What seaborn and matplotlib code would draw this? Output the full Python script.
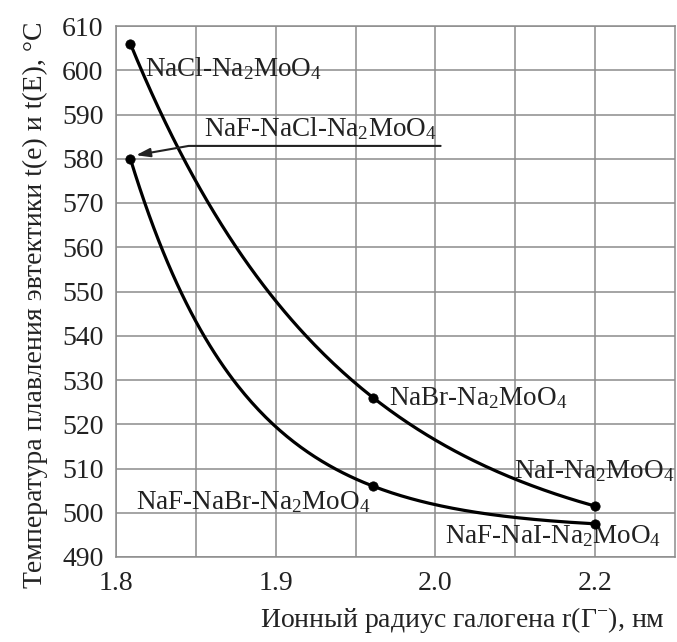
import numpy as np
import pandas as pd
import seaborn as sns
import matplotlib.pyplot as plt

# ---- data ----
radius = [1.809, 1.961, 2.20]                 # ionic radius of halide, nm (axis labels)
t_binary = [606.0, 526.0, 501.5]              # NaX-Na2MoO4 eutectic, °C
t_ternary = [580.0, 506.0, 497.5]             # NaF-NaX-Na2MoO4 eutectic, °C
labels_binary = ["NaCl-Na$_2$MoO$_4$", "NaBr-Na$_2$MoO$_4$", "NaI-Na$_2$MoO$_4$"]
labels_ternary = ["NaF-NaCl-Na$_2$MoO$_4$", "NaF-NaBr-Na$_2$MoO$_4$", "NaF-NaI-Na$_2$MoO$_4$"]
x_ticks = [1.8, 1.9, 2.0, 2.2]
x_tick_labels = ["1.8", "1.9", "2.0", "2.2"]
x_minor = [1.85, 1.95, 2.1]
y_ticks = list(range(490, 611, 10))

sns.set_theme(style="white")
plt.rcParams["font.family"] = ["Liberation Serif", "DejaVu Serif"]
plt.rcParams["mathtext.fontset"] = "custom"
plt.rcParams["mathtext.rm"] = "Liberation Serif"
plt.rcParams["mathtext.it"] = "Liberation Serif:italic"
plt.rcParams["mathtext.bf"] = "Liberation Serif:bold"

# piecewise axis: the section above 2.0 is drawn at half scale (as in the original)
def fwd(x):
    x = np.asarray(x, dtype=float)
    return np.where(x <= 2.0, x, 2.0 + (x - 2.0) / 2.0)

def inv(u):
    u = np.asarray(u, dtype=float)
    return np.where(u <= 2.0, u, 2.0 + (u - 2.0) * 2.0)

def exp_fit_curve(x, y, n=200):
    """Exponential-decay trend line y = a + b*exp(-k u) through 3 points (u = axis position)."""
    u = fwd(x)
    d1, d2 = u[1] - u[0], u[2] - u[1]
    target = (y[0] - y[1]) / (y[1] - y[2])
    lo, hi = 1e-6, 200.0
    for _ in range(200):
        k = 0.5 * (lo + hi)
        r = (np.exp(k * d1) - 1) / (1 - np.exp(-k * d2))
        if r < target:
            lo = k
        else:
            hi = k
    b = (y[0] - y[1]) / (1 - np.exp(-k * d1))
    a = y[0] - b
    uu = np.linspace(u[0], u[2], n)
    yy = a + b * np.exp(-k * (uu - u[0]))
    return inv(uu), yy

fig = plt.figure(figsize=(6.77, 6.42), dpi=100)
ax = fig.add_axes([116 / 677, 1 - 557 / 642, 559 / 677, 531 / 642])
ax.set_xscale("function", functions=(fwd, inv))

for ys in (t_binary, t_ternary):
    cx, cy = exp_fit_curve(np.array(radius), np.array(ys))
    sns.lineplot(x=cx, y=cy, ax=ax, color="black", linewidth=2.3, sort=False, estimator=None)

df = pd.DataFrame({"r": radius * 2, "t": t_binary + t_ternary})
sns.scatterplot(data=df, x="r", y="t", ax=ax, color="black", s=45, edgecolor="black", zorder=5)

ax.set_xlim(1.8, 2.3)
ax.set_ylim(490, 610)
ax.set_xticks(x_ticks)
ax.set_xticklabels(x_tick_labels)
ax.set_xticks(x_minor, minor=True)
ax.set_yticks(y_ticks)
ax.grid(True, which="both", color="#8c8c8c", linewidth=1.1)
ax.set_axisbelow(True)
for sp in ax.spines.values():
    sp.set_color("#8c8c8c")
    sp.set_linewidth(1.1)
ax.tick_params(axis="both", which="both", length=0, labelsize=20, colors="#222222")
ax.tick_params(axis="x", pad=10)
ax.tick_params(axis="y", pad=9)

fs = 19.5
tc = "#222222"
ax.text(1.818, 600.3, labels_binary[0], fontsize=fs, ha="left", va="center", color=tc)
ax.text(1.971, 526.0, labels_binary[1], fontsize=fs, ha="left", va="center", color=tc)
ax.text(2.098, 509.5, labels_binary[2], fontsize=fs, ha="left", va="center", color=tc)
ax.text(1.8125, 502.3, labels_ternary[1], fontsize=fs, ha="left", va="center", color=tc)
ax.text(2.012, 494.6, labels_ternary[2], fontsize=fs, ha="left", va="center", color=tc)
ax.text(1.855, 586.8, labels_ternary[0], fontsize=fs, ha="left", va="center", color=tc)
ax.annotate("", xy=(1.8125, 580.8), xytext=(2.262, 582.9) if False else (2.0065, 582.9),
            arrowprops=dict(arrowstyle="-|>,head_length=0.7,head_width=0.22",
                            connectionstyle="angle,angleA=180,angleB=10,rad=0",
                            color="#222222", linewidth=1.5, shrinkA=0, shrinkB=0))

ax.set_xlabel("Ионный радиус галогена r(Г$^{-}$), нм", fontsize=20, color=tc, ha="right", va="center")
ax.xaxis.set_label_coords((665 - 116) / 559, -(620 - 557) / 531)
ax.set_ylabel("Температура плавления эвтектики t(e) и t(E), °C", fontsize=20, color=tc, va="center")
ax.yaxis.set_label_coords((35 - 116) / 559, (557 - 305) / 531)

fig.savefig("out.png", dpi=100)
